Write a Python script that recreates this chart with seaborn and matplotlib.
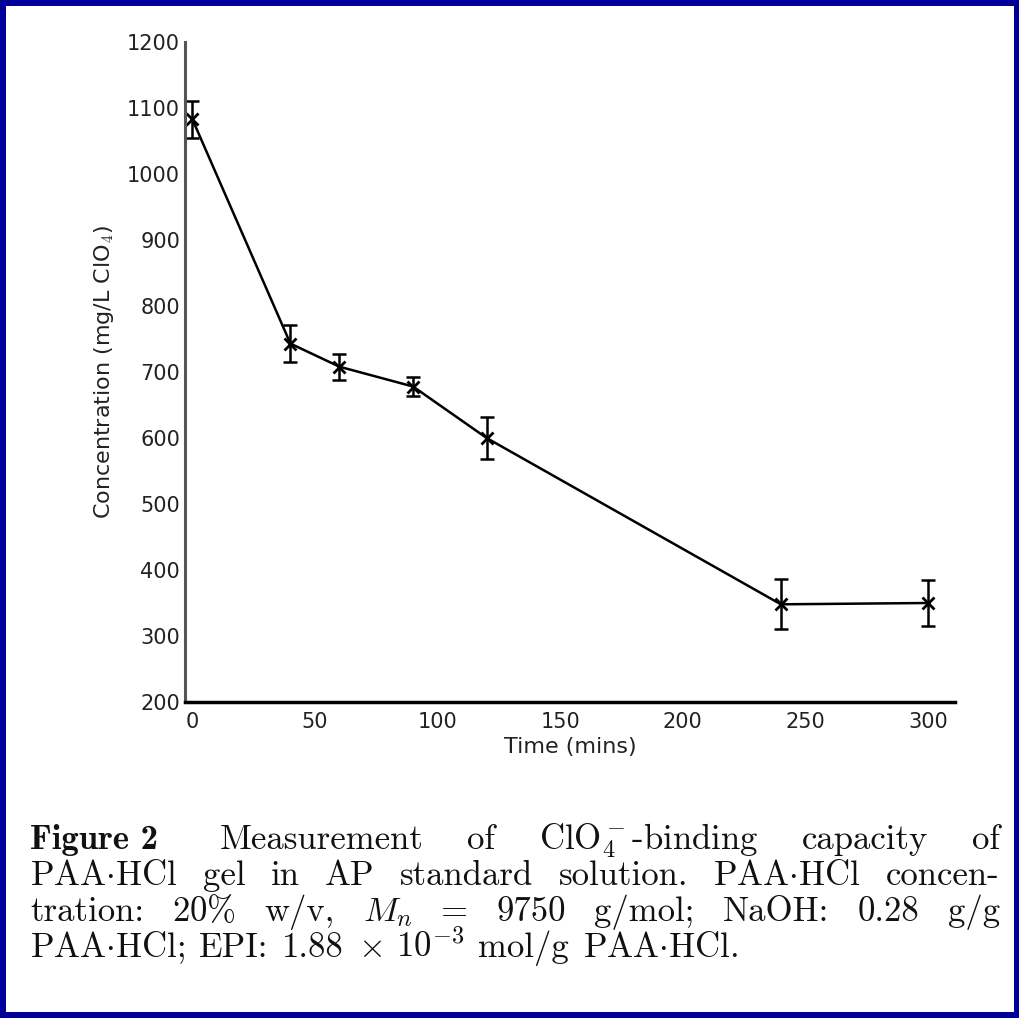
import matplotlib
matplotlib.use("Agg")
import matplotlib.pyplot as plt
import seaborn as sns
import pandas as pd
from matplotlib.patches import Rectangle

# ---- data ----
time_min = [0, 40, 60, 90, 120, 240, 300]
conc = [1083, 743, 708, 678, 600, 348, 350]
conc_err = [28, 28, 20, 14, 32, 38, 35]
x_ticks = [0, 50, 100, 150, 200, 250, 300]
y_ticks = [200, 300, 400, 500, 600, 700, 800, 900, 1000, 1100, 1200]

sns.set_theme(style="white")
plt.rcParams['font.family'] = ['DejaVu Sans']
plt.rcParams['mathtext.fontset'] = 'cm'

W, H = 1020, 1018
fig = plt.figure(figsize=(W / 100, H / 100), dpi=100)
fig.patch.set_facecolor('#000099')
b = 6
bg = Rectangle((b / W, b / H), 1 - 2 * b / W, 1 - 2 * b / H,
               transform=fig.transFigure, facecolor='white',
               edgecolor='none', zorder=-10)
fig.patches.append(bg)

ax = fig.add_axes([185 / W, 316 / H, (955 - 185) / W, (976 - 316) / H])
ax.set_zorder(5)
ax.set_facecolor('white')
df = pd.DataFrame({'t': time_min, 'c': conc})
sns.lineplot(data=df, x='t', y='c', ax=ax, color='black', linewidth=1.8,
             marker='x', markersize=8, markeredgewidth=2, markeredgecolor='black')
ax.errorbar(time_min, conc, yerr=conc_err, fmt='none', ecolor='black',
            elinewidth=1.8, capsize=5, capthick=1.8)

ax.set_xlim(-3, 311)
ax.set_ylim(200, 1200)
ax.set_xticks(x_ticks)
ax.set_yticks(y_ticks)
ax.tick_params(axis='both', direction='in', length=5, width=1.5, colors='#222222',
               labelsize=15)
ax.tick_params(axis='x', pad=7)
ax.set_xlabel('Time (mins)', fontsize=16, color='#222222', labelpad=4)
ax.set_ylabel(r'Concentration (mg/L ClO$_4$)', fontsize=16, color='#222222', labelpad=8)
for s in ['top', 'right']:
    ax.spines[s].set_visible(False)
ax.spines['left'].set_color('#555555')
ax.spines['left'].set_linewidth(2.2)
ax.spines['bottom'].set_color('black')
ax.spines['bottom'].set_linewidth(2.5)

# ---- caption, justified ----
fig.canvas.draw()
renderer = fig.canvas.get_renderer()
cap_fs = 25
serif = ['cmr10', 'DejaVu Serif']

caption_lines = [
    [("Figure 2", 'bold'), ("Measurement", None), ("of", None), (r"ClO$_4^-$-binding", None),
     ("capacity", None), ("of", None)],
    [(r"PAA$\cdot$HCl", None), ("gel", None), ("in", None), ("AP", None), ("standard", None),
     ("solution.", None), (r"PAA$\cdot$HCl", None), ("concen-", None)],
    [("tration:", None), (r"20$\%$", None), ("w/v,", None), (r"$M_n$", None), ("=", None),
     ("9750", None), ("g/mol;", None), ("NaOH:", None), ("0.28", None), ("g/g", None)],
    [(r"PAA$\cdot$HCl;", None), ("EPI:", None), ("1.88", None), (r"$\times$", None),
     (r"10$^{-3}$", None), ("mol/g", None), (r"PAA$\cdot$HCl.", None)],
]
baselines = [849, 885, 921, 957]
x_left, x_right = 30, 1000
for li, (words, yb) in enumerate(zip(caption_lines, baselines)):
    texts = []
    widths = []
    for w, style in words:
        fam = ['cmb10', 'DejaVu Serif'] if style == 'bold' else serif
        t = fig.text(0, 1 - yb / H, w, fontsize=cap_fs, family=fam,
                     va='baseline', ha='left', color='#111111', zorder=6)
        texts.append(t)
        widths.append(t.get_window_extent(renderer).width)
    total = sum(widths)
    n_gaps = len(words) - 1
    extra_first = 18 if li == 0 else 0
    if li < len(caption_lines) - 1:
        gap = (x_right - x_left - total - extra_first) / n_gaps
    else:
        gap = 14
    x = x_left
    for i, (t, wd) in enumerate(zip(texts, widths)):
        t.set_x(x / W)
        x += wd + gap + (extra_first if i == 0 else 0)

fig.savefig('out.png', dpi=100, facecolor=fig.get_facecolor())
